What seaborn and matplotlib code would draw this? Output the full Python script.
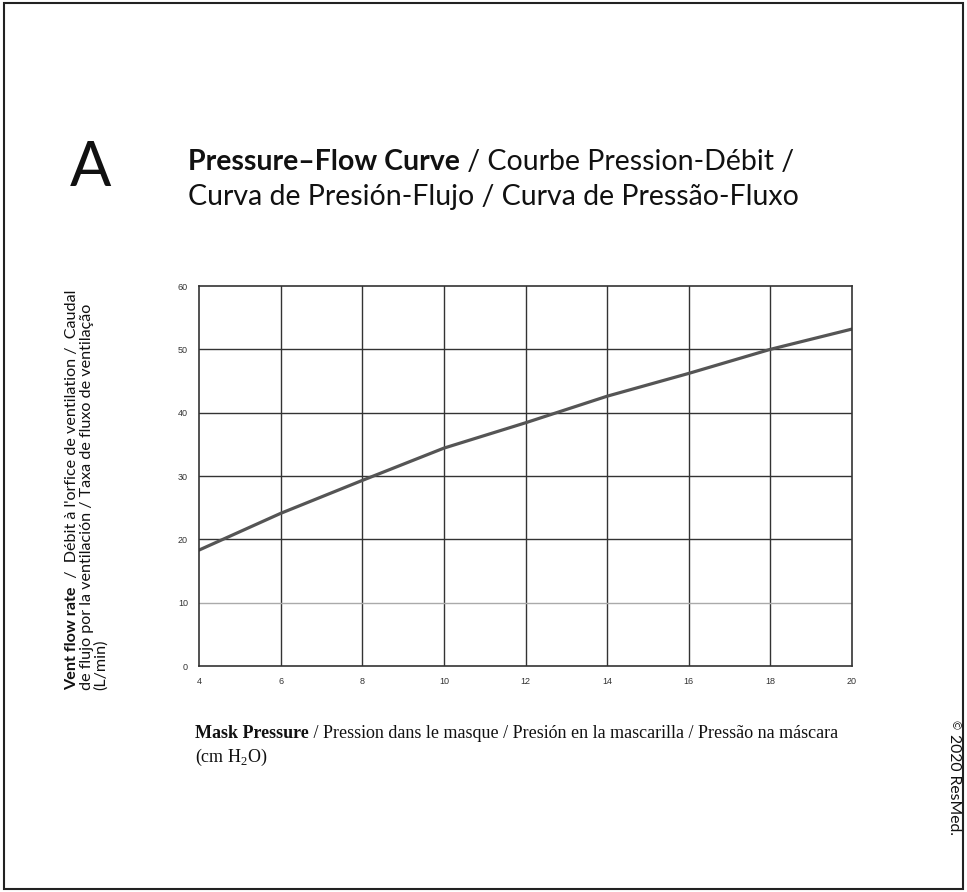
import numpy as np
import pandas as pd
import seaborn as sns
import matplotlib as mpl
from matplotlib import pyplot as plt
from matplotlib.patches import Rectangle

sns.set_theme(style="white")
plt.rcParams['font.family'] = ['Lato', 'DejaVu Sans']
plt.rcParams['mathtext.fontset'] = 'custom'
plt.rcParams['mathtext.rm'] = 'Liberation Serif'

# valores
presion = [4, 6, 8, 10, 12, 14, 16, 18, 20]
caudal = [18.3, 24.1, 29.3, 34.4, 38.4, 42.6, 46.2, 50.0, 53.2]
xticks = [4, 6, 8, 10, 12, 14, 16, 18, 20]
yticks = [0, 10, 20, 30, 40, 50, 60]

df = pd.DataFrame({"x": presion, "y": caudal})

W, H = 967, 892
fig = plt.figure(figsize=(W / 100, H / 100), dpi=100)
ax = fig.add_axes([199 / W, 1 - 666 / H, (852 - 199) / W, (666 - 286) / H])

sns.lineplot(x="x", y="y", data=df, ax=ax, color="#555555", linewidth=2.3)

ax.set_xlim(4, 20)
ax.set_ylim(0, 60)
ax.set_xticks(xticks)
ax.set_yticks(yticks)
ax.tick_params(labelsize=6.5, colors="#333333", length=0, pad=8)
for lab in ax.get_xticklabels() + ax.get_yticklabels():
    lab.set_family(['Liberation Sans', 'DejaVu Sans'])
ax.set_xlabel("")
ax.set_ylabel("")
for x in xticks[1:-1]:
    ax.axvline(x, color="#333333", linewidth=1.0, zorder=0)
for y in yticks[1:-1]:
    c = "#aaaaaa" if y == 10 else "#333333"
    ax.axhline(y, color=c, linewidth=1.0, zorder=0)
for s in ax.spines.values():
    s.set_color("#333333")
    s.set_linewidth(1.2)

renderer = fig.canvas.get_renderer()


def texto_mixto(x0, y0, partes, rot=0, **kw):
    # dibuja partes (texto, peso) una tras otra, en pixeles de figura
    x, y = x0, y0
    for txt, peso in partes:
        t = fig.text(x / W, 1 - y / H, txt, fontweight=peso, rotation=rot,
                     rotation_mode="anchor", ha="left", va="baseline",
                     transform=fig.transFigure, **kw)
        bb = t.get_window_extent(renderer)
        if rot == 0:
            x += bb.width
        else:
            y -= bb.height


# titulo
fig.text(70 / W, 1 - 186 / H, "A", fontsize=44, color="#111111")
texto_mixto(188, 170, [("Pressure–Flow Curve", "bold"),
                       (" / Courbe Pression-Débit /", "normal")],
            fontsize=20.5, color="#111111")
texto_mixto(188, 205, [("Curva de Presión-Flujo / Curva de Pressão-Fluxo", "normal")],
            fontsize=20.5, color="#111111")

# etiqueta eje y
texto_mixto(76, 690, [("Vent flow rate", "bold"),
                      ("  /  Débit à l'orfice de ventilation /  Caudal", "normal")],
            rot=90, fontsize=11.6, color="#111111")
texto_mixto(91, 690, [("de flujo por la ventilación / Taxa de fluxo de ventilação", "normal")],
            rot=90, fontsize=11.6, color="#111111")
texto_mixto(105, 690, [("(L/min)", "normal")],
            rot=90, fontsize=11.6, color="#111111")

# etiqueta eje x
serif = ['Liberation Serif', 'DejaVu Serif']
texto_mixto(195, 738, [("Mask Pressure", "bold"),
                       (" / Pression dans le masque / Presión en la mascarilla / Pressão na máscara", "normal")],
            fontsize=13, color="#111111", family=serif)
texto_mixto(195, 762, [(r"(cm H$_{\mathregular{2}}$O)", "normal")],
            fontsize=13, color="#111111", family=serif)

# copyright
fig.text(949 / W, 1 - 720 / H, "©", fontsize=8, rotation=-90,
         ha="left", va="top", color="#111111")
fig.text(947 / W, 1 - 734 / H, "2020 ResMed.", fontsize=11.3, rotation=-90,
         ha="left", va="top", color="#111111")

# marco
fig.patches.append(Rectangle((4 / W, 3 / H), 959 / W, 886 / H, transform=fig.transFigure,
                             fill=False, edgecolor="#222222", linewidth=1.5))

fig.savefig("out.png", dpi=100)
